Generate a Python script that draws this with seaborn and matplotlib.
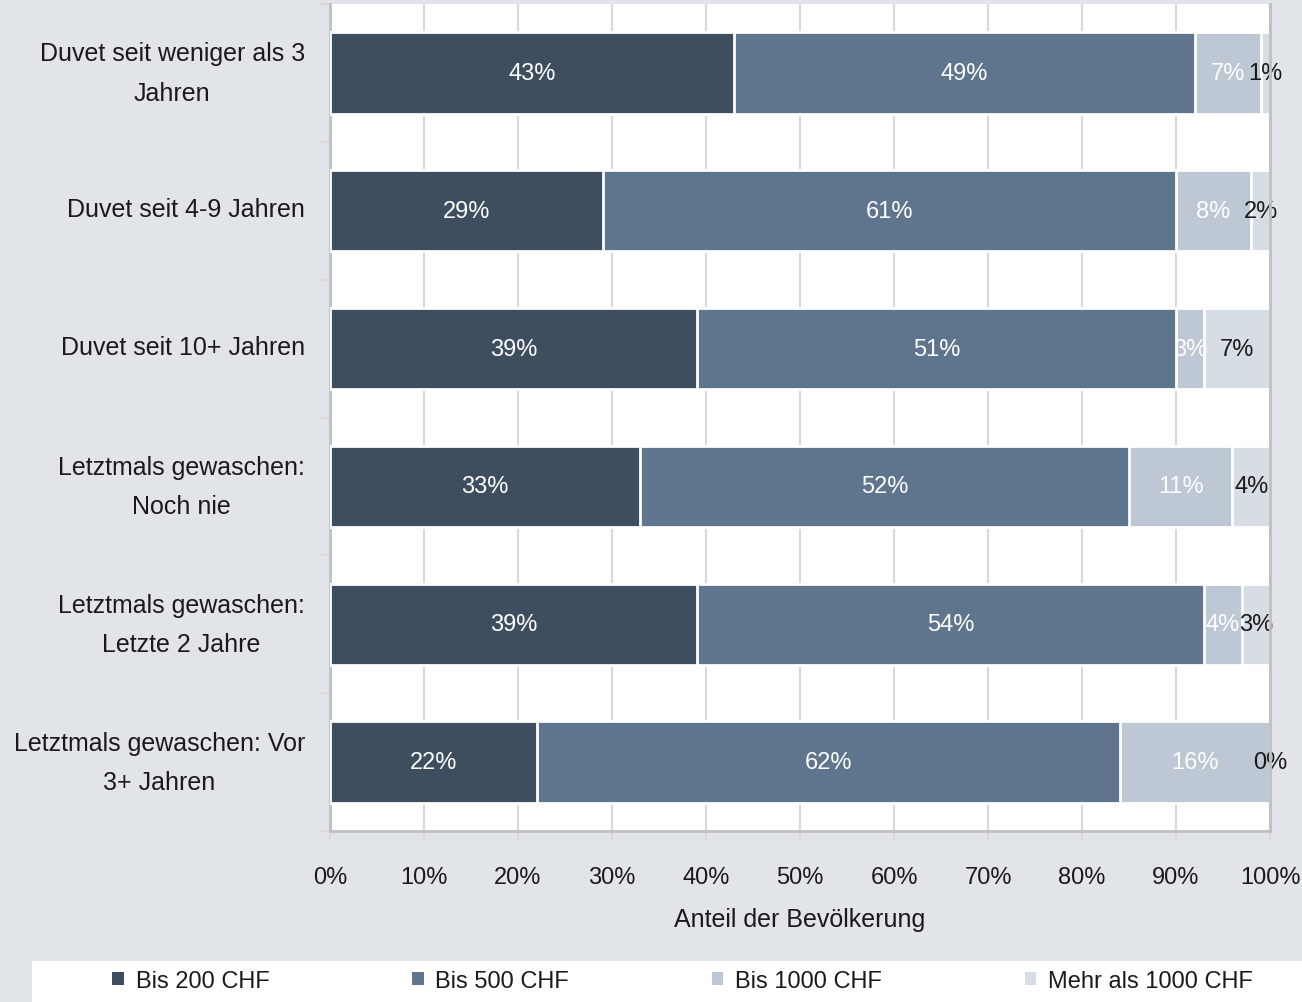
import numpy as np
import pandas as pd
import matplotlib
matplotlib.use("Agg")
import matplotlib.pyplot as plt
from matplotlib import font_manager
from matplotlib.patches import Patch, Rectangle
import seaborn as sns

categories = [
    "Duvet seit weniger als 3\nJahren",
    "Duvet seit 4-9 Jahren",
    "Duvet seit 10+ Jahren",
    "Letztmals gewaschen:\nNoch nie",
    "Letztmals gewaschen:\nLetzte 2 Jahre",
    "Letztmals gewaschen: Vor\n3+ Jahren",
]
series_names = ["Bis 200 CHF", "Bis 500 CHF", "Bis 1000 CHF", "Mehr als 1000 CHF"]
bis_200 = [43, 29, 39, 33, 39, 22]
bis_500 = [49, 61, 51, 52, 54, 62]
bis_1000 = [7, 8, 3, 11, 4, 16]
mehr_1000 = [1, 2, 7, 4, 3, 0]
x_ticks = [0, 10, 20, 30, 40, 50, 60, 70, 80, 90, 100]
x_label = "Anteil der Bevölkerung"

colors = ["#3e4e5f", "#5f758d", "#bec8d4", "#d7dde5"]
label_colors = ["white", "white", "white", "#1a1a1a"]
bg = "#e1e5ea"

sns.set_theme(style="white")
installed = {f.name for f in font_manager.fontManager.ttflist}
families = [f for f in ["Liberation Sans Narrow", "Liberation Sans", "DejaVu Sans"] if f in installed]
plt.rcParams["font.family"] = families

fig = plt.figure(figsize=(13.02, 10.03), dpi=100, facecolor=bg)
ax = fig.add_axes([330 / 1302, 1 - 832 / 1003, 940 / 1302, 827 / 1003])
ax.set_facecolor("white")

series = [bis_200, bis_500, bis_1000, mehr_1000]
df = pd.DataFrame({name: vals for name, vals in zip(series_names, series)})
df["Kategorie"] = categories
cum = df[series_names].cumsum(axis=1)

# stacked bars: draw cumulative totals from the widest down
for i in range(len(series_names) - 1, -1, -1):
    sns.barplot(
        x=cum[series_names[i]].values, y=df["Kategorie"], orient="h",
        color=colors[i], width=0.59, edgecolor="white", linewidth=2,
        saturation=1, ax=ax, zorder=3,
    )

# value labels centred on each segment
for r in range(len(categories)):
    left = 0
    for i, name in enumerate(series_names):
        v = df[name].iloc[r]
        ax.text(left + v / 2, r, f"{v}%", ha="center", va="center",
                fontsize=17, color=label_colors[i], zorder=5)
        left += v

ax.set_xlim(0, 100)
ax.set_ylim(len(categories) - 0.5, -0.5)
ax.set_xticks(x_ticks)
ax.set_xticklabels([f"{t}%" for t in x_ticks], fontsize=17, color="#1a1a1a")

# category labels: raise the text blocks slightly so they sit centred on the bars
label_pos = [r - (0.072 if "\n" in c else 0.03) for r, c in enumerate(categories)]
ax.set_yticks(label_pos)
ax.set_yticklabels(categories, fontsize=18, color="#1a1a1a", ha="right",
                   multialignment="center", linespacing=1.8)
ax.set_yticks(np.arange(-0.5, len(categories)), minor=True)
ax.set_ylabel("")
ax.set_xlabel(x_label, fontsize=18, color="#1a1a1a", labelpad=14)

ax.xaxis.grid(True, color="#d9d9d9", linewidth=1.5, zorder=0)
ax.set_axisbelow(True)
for side in ["left", "bottom", "right"]:
    ax.spines[side].set_visible(True)
    ax.spines[side].set_color("#bfbfbf")
    ax.spines[side].set_linewidth(2)
ax.spines["top"].set_visible(False)
ax.spines["right"].set_zorder(6)

ax.tick_params(axis="x", which="major", length=7, width=1.5, color="#d9d9d9",
               pad=18, direction="out", bottom=True)
ax.tick_params(axis="y", which="major", length=0, pad=18, left=True)
ax.tick_params(axis="y", which="minor", length=8, width=1.5, color="#d9d9d9",
               direction="out", left=True)

# legend strip along the bottom
fig.patches.append(Rectangle((32 / 1302, 0), 1 - 32 / 1302, 41 / 1003,
                             transform=fig.transFigure, facecolor="white",
                             edgecolor="none", zorder=0))
handles = [Patch(facecolor=c, edgecolor="none") for c in colors]
fig.legend(handles, series_names, loc="center left", ncol=4, mode="expand",
           bbox_to_anchor=(112 / 1302, 21 / 1003, 1141 / 1302, 0),
           frameon=False, fontsize=17, handlelength=0.5, handleheight=0.5,
           handletextpad=0.5, borderpad=0, borderaxespad=0, labelcolor="#1a1a1a")

fig.savefig("out.png", dpi=100, facecolor=bg)
